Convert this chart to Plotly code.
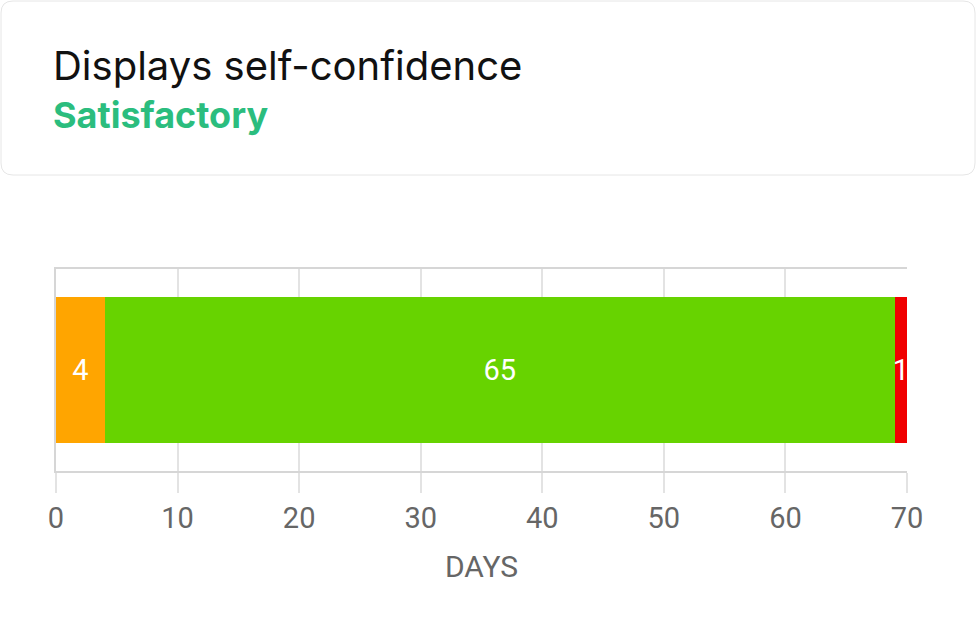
import plotly.graph_objects as go

categories = ["Displays self-confidence"]
segment_names = ["Needs improvement", "Satisfactory", "Unsatisfactory"]
segment_days = [4, 65, 1]
segment_colors = ["#FFA500", "#67D300", "#F00000"]
x_ticks = [0, 10, 20, 30, 40, 50, 60, 70]

title_text = "Displays self-confidence"
status_text = "Satisfactory"

W, H = 976, 623
L, R, T, B = 56, 907, 269, 471


def px_x(p):
    return (p - L) / (R - L)


def px_y(p):
    return (B - p) / (B - T)


fig = go.Figure()
for name, days, color in zip(segment_names, segment_days, segment_colors):
    fig.add_trace(go.Bar(
        y=categories, x=[days], name=name, orientation="h",
        marker=dict(color=color, line=dict(width=0)),
        width=0.72,
        text=[str(days)], textposition="inside", insidetextanchor="middle",
        constraintext="none", cliponaxis=False,
        textfont=dict(color="white", size=29, family="Roboto"),
    ))

# card behind the title
x0, x1, y0, y1 = px_x(1), px_x(975), px_y(1), px_y(175)
rx, ry = 12 / (R - L), 12 / (B - T)
card = (f"M {x0 + rx} {y0} L {x1 - rx} {y0} Q {x1} {y0} {x1} {y0 - ry} "
        f"L {x1} {y1 + ry} Q {x1} {y1} {x1 - rx} {y1} L {x0 + rx} {y1} "
        f"Q {x0} {y1} {x0} {y1 + ry} L {x0} {y0 - ry} Q {x0} {y0} {x0 + rx} {y0} Z")
fig.add_shape(type="path", path=card, xref="paper", yref="paper",
              line=dict(color="#E6E6E6", width=1), fillcolor="white", layer="below")

fig.add_annotation(text=title_text, xref="paper", yref="paper", x=px_x(51), y=px_y(65),
                   xanchor="left", yanchor="middle", showarrow=False,
                   font=dict(family="Inter", size=40, color="#111111"))
fig.add_annotation(text=f"<b>{status_text}</b>", xref="paper", yref="paper", x=px_x(51), y=px_y(115),
                   xanchor="left", yanchor="middle", showarrow=False,
                   font=dict(family="Inter", size=36, color="#2BBD7E"))

fig.update_layout(
    barmode="stack",
    width=W, height=H,
    margin=dict(l=L, r=W - R, t=T, b=H - B, pad=0),
    paper_bgcolor="white", plot_bgcolor="white",
    showlegend=False,
    xaxis=dict(
        range=[0, 70], tickvals=x_ticks, showgrid=True, gridcolor="#E3E3E3", gridwidth=2,
        zeroline=False, showline=True, linecolor="#D6D6D6", linewidth=2, mirror=True,
        ticks="outside", ticklen=20, tickcolor="#E3E3E3", tickwidth=2,
        tickfont=dict(family="Roboto", size=29, color="#666666"),
        title=dict(text="DAYS", font=dict(family="Roboto", size=30, color="#666666"), standoff=22),
    ),
    yaxis=dict(
        range=[-0.5, 0.5], showticklabels=False, showgrid=False, zeroline=False,
        showline=True, linecolor="#D6D6D6", linewidth=2, ticks="",
    ),
)

# drop the default page margin so the figure sits at the window's corner
fig.write_html("out.html", config={"displayModeBar": False},
               post_script="document.body.style.margin = '0';")
